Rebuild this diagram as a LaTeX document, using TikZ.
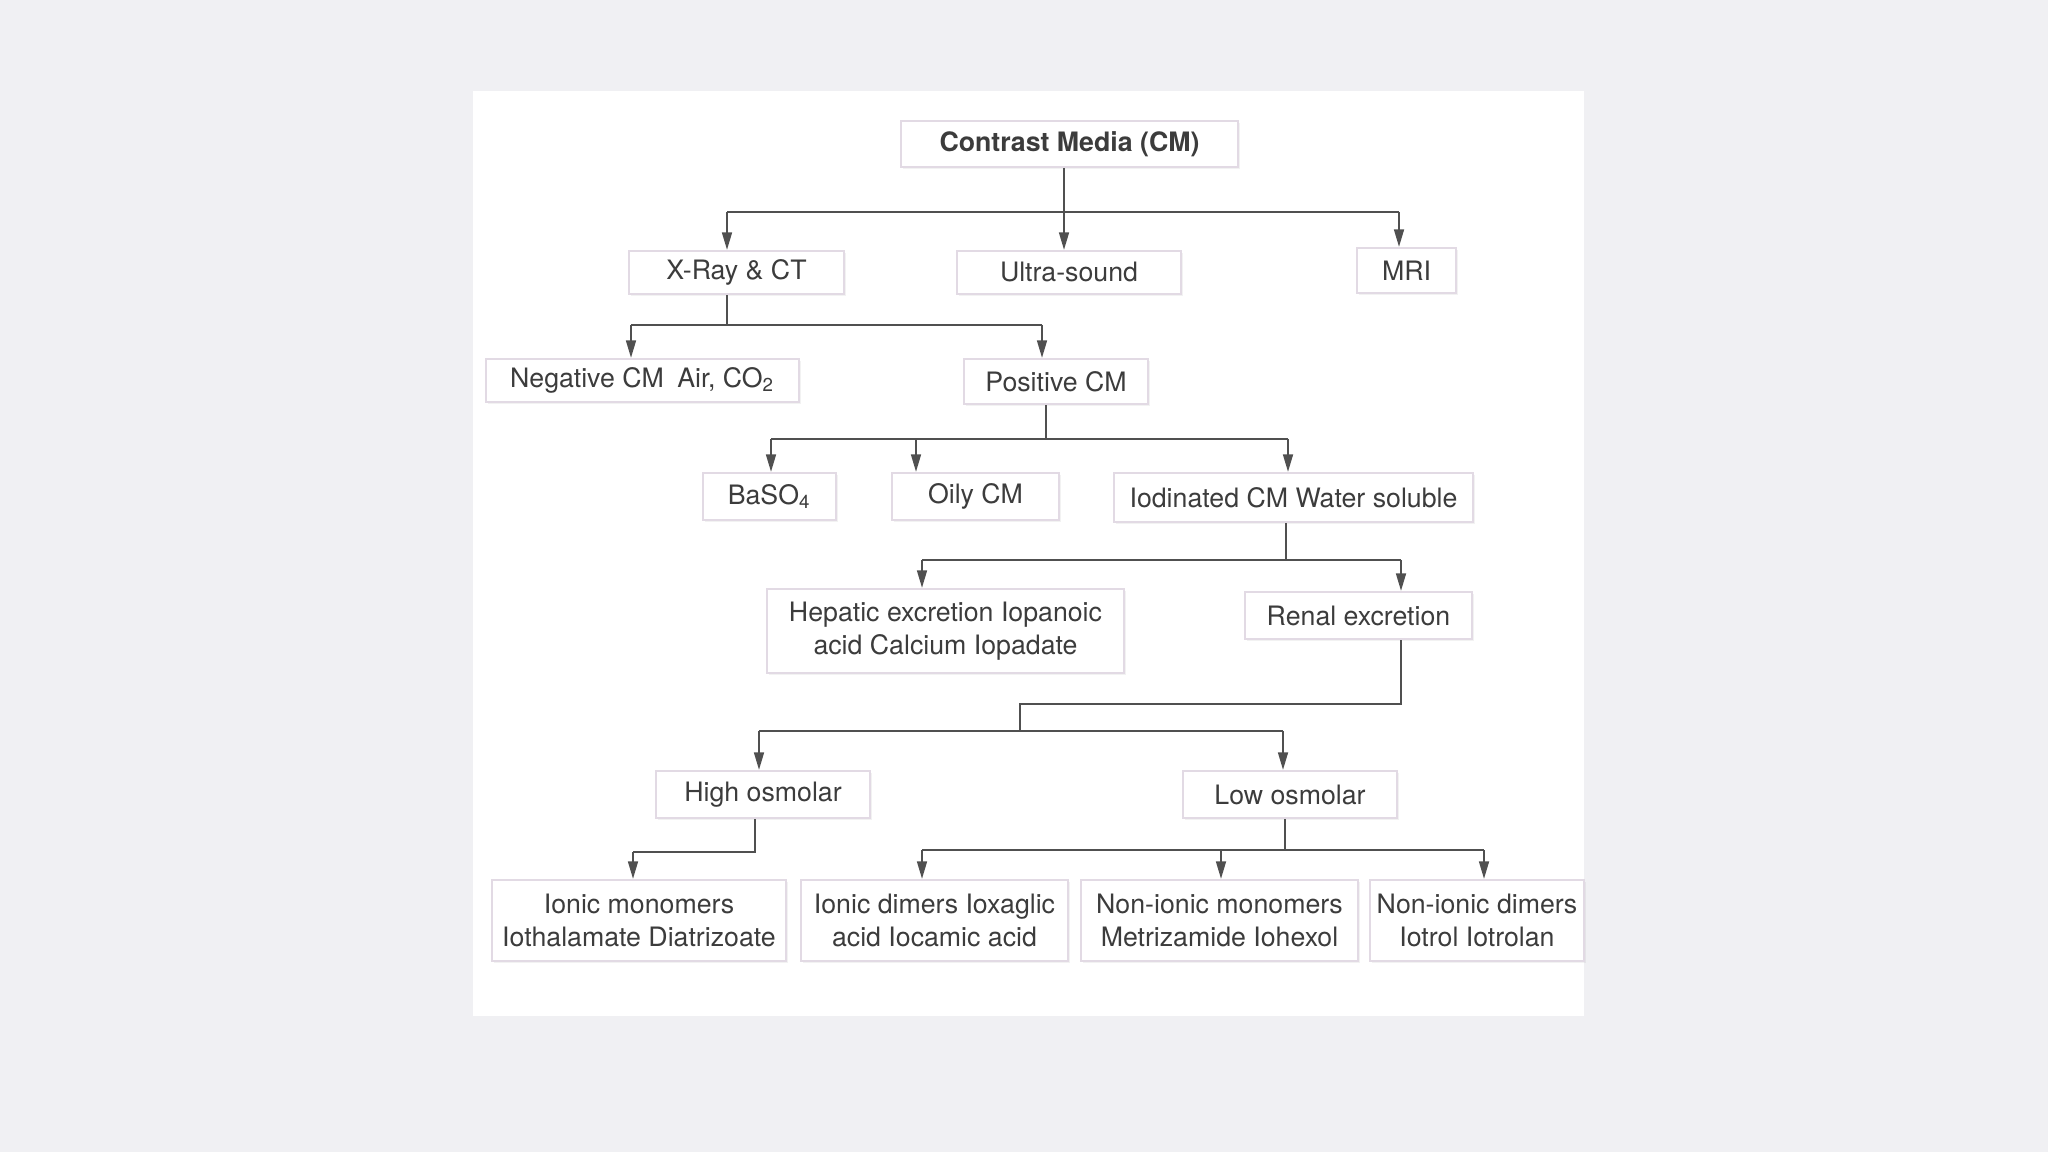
\documentclass[tikz,border=0pt]{standalone}
\usepackage{fontspec}
\setmainfont{TeX Gyre Heros}
\usetikzlibrary{arrows.meta, positioning, shadows}
\definecolor{pagegray}{RGB}{240,240,243}
\definecolor{boxline}{RGB}{226,218,228}
\definecolor{linkgray}{RGB}{80,80,80}
\definecolor{textgray}{RGB}{60,60,60}
\tikzset{
  cmbox/.style={draw=boxline, line width=0.6pt, fill=white, inner sep=0pt, align=center,
    text=textgray, font=\fontsize{7.6}{9.3}\selectfont,
    drop shadow={opacity=0.10, shadow xshift=0.6pt, shadow yshift=-0.6pt}},
  link/.style={draw=linkgray, line width=0.6pt},
  arr/.style={link, -{Triangle[length=5pt,width=2.8pt]}},
}

\begin{document}
\begin{tikzpicture}[x=0.01cm, y=-0.01cm]
  % page and panel
  \useasboundingbox (0,0) rectangle (2048,1152);
  \fill[pagegray] (0,0) rectangle (2048,1152);
  \fill[white] (473,91) rectangle (1584,1016);

  % boxes
  \node[cmbox, minimum width=3.37cm, minimum height=0.46cm, font=\fontsize{7.6}{9.3}\selectfont\bfseries]
    (cm) at (1069.5,144) {Contrast Media (CM)};
  \node[cmbox, minimum width=2.15cm, minimum height=0.43cm] (xray) at (736.5,272.5) {X-Ray \& CT};
  \node[cmbox, minimum width=2.24cm, minimum height=0.43cm] (us) at (1069,272.5) {Ultra-sound};
  \node[cmbox, minimum width=0.99cm, minimum height=0.45cm] (mri) at (1406.5,270.5) {MRI};
  \node[cmbox, minimum width=3.13cm, minimum height=0.43cm] (neg) at (642.5,380.5)
    {Negative CM\enspace Air, CO\textsubscript{2}};
  \node[cmbox, minimum width=1.84cm, minimum height=0.45cm] (pos) at (1056,381.5) {Positive CM};
  \node[cmbox, minimum width=1.33cm, minimum height=0.47cm] (baso) at (769.5,496.5) {BaSO\textsubscript{4}};
  \node[cmbox, minimum width=1.67cm, minimum height=0.47cm] (oily) at (975.5,496.5) {Oily CM};
  \node[cmbox, minimum width=3.59cm, minimum height=0.49cm] (iod) at (1293.5,497.5) {Iodinated CM Water soluble};
  \node[cmbox, minimum width=3.57cm, minimum height=0.84cm] (hep) at (945.5,631)
    {Hepatic excretion Iopanoic\\acid Calcium Iopadate};
  \node[cmbox, minimum width=2.27cm, minimum height=0.47cm] (renal) at (1358.5,615.5) {Renal excretion};
  \node[cmbox, minimum width=2.14cm, minimum height=0.47cm] (high) at (763,794.5) {High osmolar};
  \node[cmbox, minimum width=2.14cm, minimum height=0.47cm] (low) at (1290,794.5) {Low osmolar};
  \node[cmbox, minimum width=2.94cm, minimum height=0.81cm] (im) at (639,920.5)
    {Ionic monomers\\Iothalamate Diatrizoate};
  \node[cmbox, minimum width=2.67cm, minimum height=0.81cm] (id) at (934.5,920.5)
    {Ionic dimers Ioxaglic\\acid Iocamic acid};
  \node[cmbox, minimum width=2.77cm, minimum height=0.81cm] (nim) at (1219.5,920.5)
    {Non-ionic monomers\\Metrizamide Iohexol};
  \node[cmbox, minimum width=2.14cm, minimum height=0.81cm] (nid) at (1477,920.5)
    {Non-ionic dimers\\Iotrol Iotrolan};

  % junctions
  \coordinate (t1) at (727,212);   \coordinate (t0) at (1064,212);  \coordinate (t2) at (1399,212);
  \coordinate (x1) at (631,325);   \coordinate (x2) at (1042,325);
  \coordinate (p1) at (771,439);   \coordinate (pm) at (916,439);
  \coordinate (p0) at (1046,439);  \coordinate (p2) at (1288,439);
  \coordinate (i1) at (922,560);   \coordinate (i0) at (1286,560);  \coordinate (i2) at (1401,560);
  \coordinate (rb) at (1020,704);  \coordinate (rk) at (1020,731);
  \coordinate (h1) at (759,731);   \coordinate (h2) at (1283,731);
  \coordinate (hv) at (755,852);   \coordinate (hb) at (633,852);
  \coordinate (l1) at (922,850);   \coordinate (lm) at (1221,850);
  \coordinate (l0) at (1285,850);  \coordinate (l2) at (1484,850);

  % Contrast Media
  \draw[link] (t0 |- cm.south) -- (t0);
  \draw[link] (t1) -- (t2);
  \draw[arr] (t1) -- (t1 |- xray.north);
  \draw[arr] (t0) -- (t0 |- us.north);
  \draw[arr] (t2) -- (t2 |- mri.north);
  % X-Ray & CT
  \draw[link] (t1 |- xray.south) -- (t1 |- x1);
  \draw[link] (x1) -- (x2);
  \draw[arr] (x1) -- (x1 |- neg.north);
  \draw[arr] (x2) -- (x2 |- pos.north);
  % Positive CM
  \draw[link] (p0 |- pos.south) -- (p0);
  \draw[link] (p1) -- (p2);
  \draw[arr] (p1) -- (p1 |- baso.north);
  \draw[arr] (pm) -- (pm |- oily.north);
  \draw[arr] (p2) -- (p2 |- iod.north);
  % Iodinated CM
  \draw[link] (i0 |- iod.south) -- (i0);
  \draw[link] (i1) -- (i2);
  \draw[arr] (i1) -- (i1 |- hep.north);
  \draw[arr] (i2) -- (i2 |- renal.north);
  % Renal excretion
  \draw[link] (i2 |- renal.south) |- (rb) -- (rk);
  \draw[link] (h1) -- (h2);
  \draw[arr] (h1) -- (h1 |- high.north);
  \draw[arr] (h2) -- (h2 |- low.north);
  % High osmolar
  \draw[link] (hv |- high.south) -- (hv) -- (hb);
  \draw[arr] (hb) -- (hb |- im.north);
  % Low osmolar
  \draw[link] (l0 |- low.south) -- (l0);
  \draw[link] (l1) -- (l2);
  \draw[arr] (l1) -- (l1 |- id.north);
  \draw[arr] (lm) -- (lm |- nim.north);
  \draw[arr] (l2) -- (l2 |- nid.north);
\end{tikzpicture}
\end{document}
